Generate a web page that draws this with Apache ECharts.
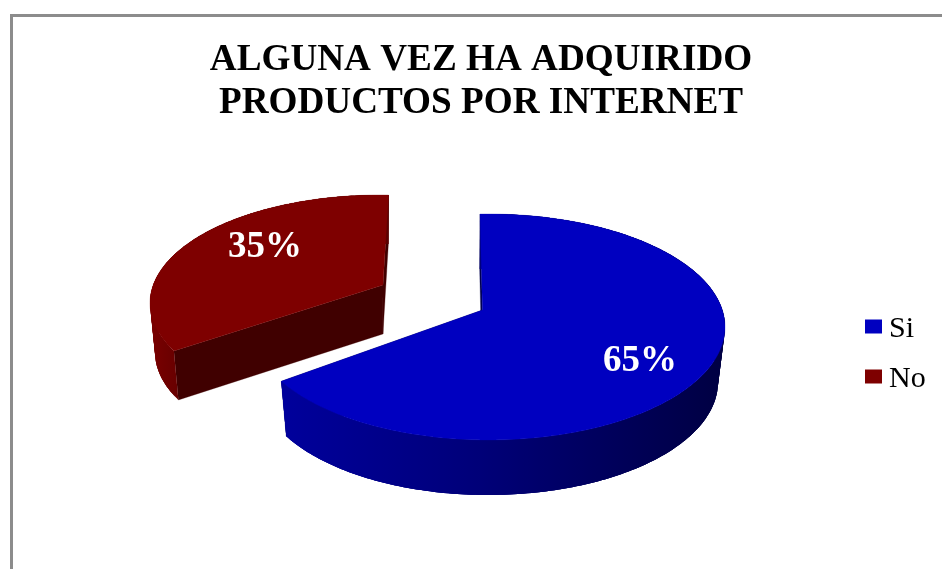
<!DOCTYPE html>
<html>
<head>
<meta charset="utf-8">
<style>
  html, body { margin: 0; padding: 0; background: #fff; }
  #chart { width: 942px; height: 569px; }
</style>
<script src="https://cdn.jsdelivr.net/npm/echarts@6/dist/echarts.min.js"></script>
</head>
<body>
<div id="chart"></div>
<script>
// Survey answers
const categories = ['Si', 'No'];
const shares = [65, 35];
const titleLines = ['ALGUNA VEZ HA ADQUIRIDO', 'PRODUCTOS POR INTERNET'];

// Drawing set-up of each exploded wedge: ellipses of the upper and lower faces,
// hub position inside them, and the fill colours.
const wedgeLooks = [
  {
    upper: { cx: 488.6, cy: 327, rx: 236.4, ry: 113 },
    lower: { cx: 488, cy: 382, rx: 230, ry: 113 },
    hub: { x: -0.026, y: -0.15 },
    turn: -0.8,
    face: '#0000c0',
    wall: '#00004e',
    rimStops: [[0, '#00009c'], [0.45, '#000078'], [1, '#000042']],
    rimSpan: [281, 725],
    labelAt: [640, 361]
  },
  {
    upper: { cx: 380, cy: 303, rx: 230, ry: 108 },
    lower: { cx: 380, cy: 352, rx: 225, ry: 108 },
    hub: { x: 0.013, y: -0.167 },
    turn: 1.7,
    face: '#7e0000',
    wall: '#400000',
    rimStops: [[0, '#7a0000'], [1, '#5c0000']],
    rimSpan: [150, 195],
    labelAt: [265, 247]
  }
];

const total = shares.reduce((a, b) => a + b, 0);

// Maps a pie angle (degrees clockwise from 12 o'clock) onto a tilted ellipse,
// shifting angles with a disc automorphism so the hub sits off-centre, as in perspective.
function rimPoint(ell, hub, deg) {
  const a = (deg - 90) * Math.PI / 180;
  const zx = Math.cos(a), zy = Math.sin(a);
  const k = 1 + Math.sqrt(1 - hub.x * hub.x - hub.y * hub.y);
  const px = hub.x / k, py = hub.y / k;
  const nx = zx + px, ny = zy + py;
  const dx = 1 + px * zx + py * zy, dy = px * zy - py * zx;
  const m = dx * dx + dy * dy;
  const ux = (nx * dx + ny * dy) / m, uy = (ny * dx - nx * dy) / m;
  return [ell.cx + ell.rx * ux, ell.cy + ell.ry * uy];
}

function hubPoint(ell, hub) {
  return [ell.cx + ell.rx * hub.x, ell.cy + ell.ry * hub.y];
}

function arc(ell, hub, from, to) {
  const pts = [];
  for (let d = from; d < to; d += 1) pts.push(rimPoint(ell, hub, d));
  pts.push(rimPoint(ell, hub, to));
  return pts;
}

function renderWedge(index) {
  return function (params, api) {
    const value = api.value(0);
    const look = wedgeLooks[index];
    const before = shares.slice(0, index).reduce((a, b) => a + b, 0);
    const from = before / total * 360 + look.turn;
    const to = (before + value) / total * 360 + look.turn;

    const topRim = arc(look.upper, look.hub, from, to);
    const lowRim = arc(look.lower, look.hub, from, to);
    const topHub = hubPoint(look.upper, look.hub);
    const lowHub = hubPoint(look.lower, look.hub);
    const n = topRim.length - 1;

    const rimFill = {
      type: 'linear', x: look.rimSpan[0], y: 0, x2: look.rimSpan[1], y2: 0, global: true,
      colorStops: look.rimStops.map(s => ({ offset: s[0], color: s[1] }))
    };

    const poly = (points, fill, width) => ({
      type: 'polygon',
      shape: { points },
      style: { fill, stroke: width ? fill : null, lineWidth: width }
    });

    // The curved outer wall is built from overlapping strips, so the silhouette
    // between the two faces is filled and no seams show between neighbours.
    const strips = [];
    for (let i = 0; i < n; i += 2) {
      const j = Math.min(i + 6, n);
      strips.push(poly(topRim.slice(i, j + 1).concat(lowRim.slice(i, j + 1).reverse()), rimFill, 0));
    }

    return {
      type: 'group',
      children: [
        poly([topRim[0], topHub, lowHub, lowRim[0]], look.wall, 0.3),
        poly([topRim[n], topHub, lowHub, lowRim[n]], look.wall, 0.3),
        ...strips,
        poly(topRim.concat([topHub]), look.face, 0.3),
        {
          type: 'text',
          x: look.labelAt[0],
          y: look.labelAt[1],
          style: {
            text: value + '%',
            fill: '#ffffff',
            font: 'bold 37px "Liberation Serif", serif',
            textAlign: 'center',
            textVerticalAlign: 'middle'
          }
        }
      ]
    };
  };
}

const chart = echarts.init(document.getElementById('chart'), null, { renderer: 'canvas' });

chart.setOption({
  animation: false,
  backgroundColor: '#ffffff',
  title: {
    text: titleLines.join('\n'),
    left: 476,
    top: 34,
    textAlign: 'center',
    textStyle: {
      fontFamily: '"Liberation Serif", serif',
      fontWeight: 'bold',
      fontSize: 37.2,
      lineHeight: 43,
      color: '#000000'
    }
  },
  legend: {
    orient: 'vertical',
    left: 860,
    top: 309,
    itemWidth: 17,
    itemHeight: 14,
    itemGap: 20,
    selectedMode: false,
    icon: 'rect',
    formatter: '{entry|{name}}',
    textStyle: {
      rich: {
        entry: {
          fontFamily: '"Liberation Serif", serif',
          fontSize: 30,
          color: '#000000',
          padding: [5, 0, 0, 2]
        }
      }
    },
    data: categories
  },
  graphic: [
    { type: 'rect', shape: { x: 10, y: 14, width: 932, height: 3 }, style: { fill: '#8c8c8c' } },
    { type: 'rect', shape: { x: 10, y: 14, width: 3, height: 555 }, style: { fill: '#8c8c8c' } }
  ],
  series: categories.map((name, i) => ({
    type: 'custom',
    name,
    coordinateSystem: 'none',
    itemStyle: { color: wedgeLooks[i].face },
    data: [[shares[i]]],
    renderItem: renderWedge(i)
  }))
});
</script>
</body>
</html>
